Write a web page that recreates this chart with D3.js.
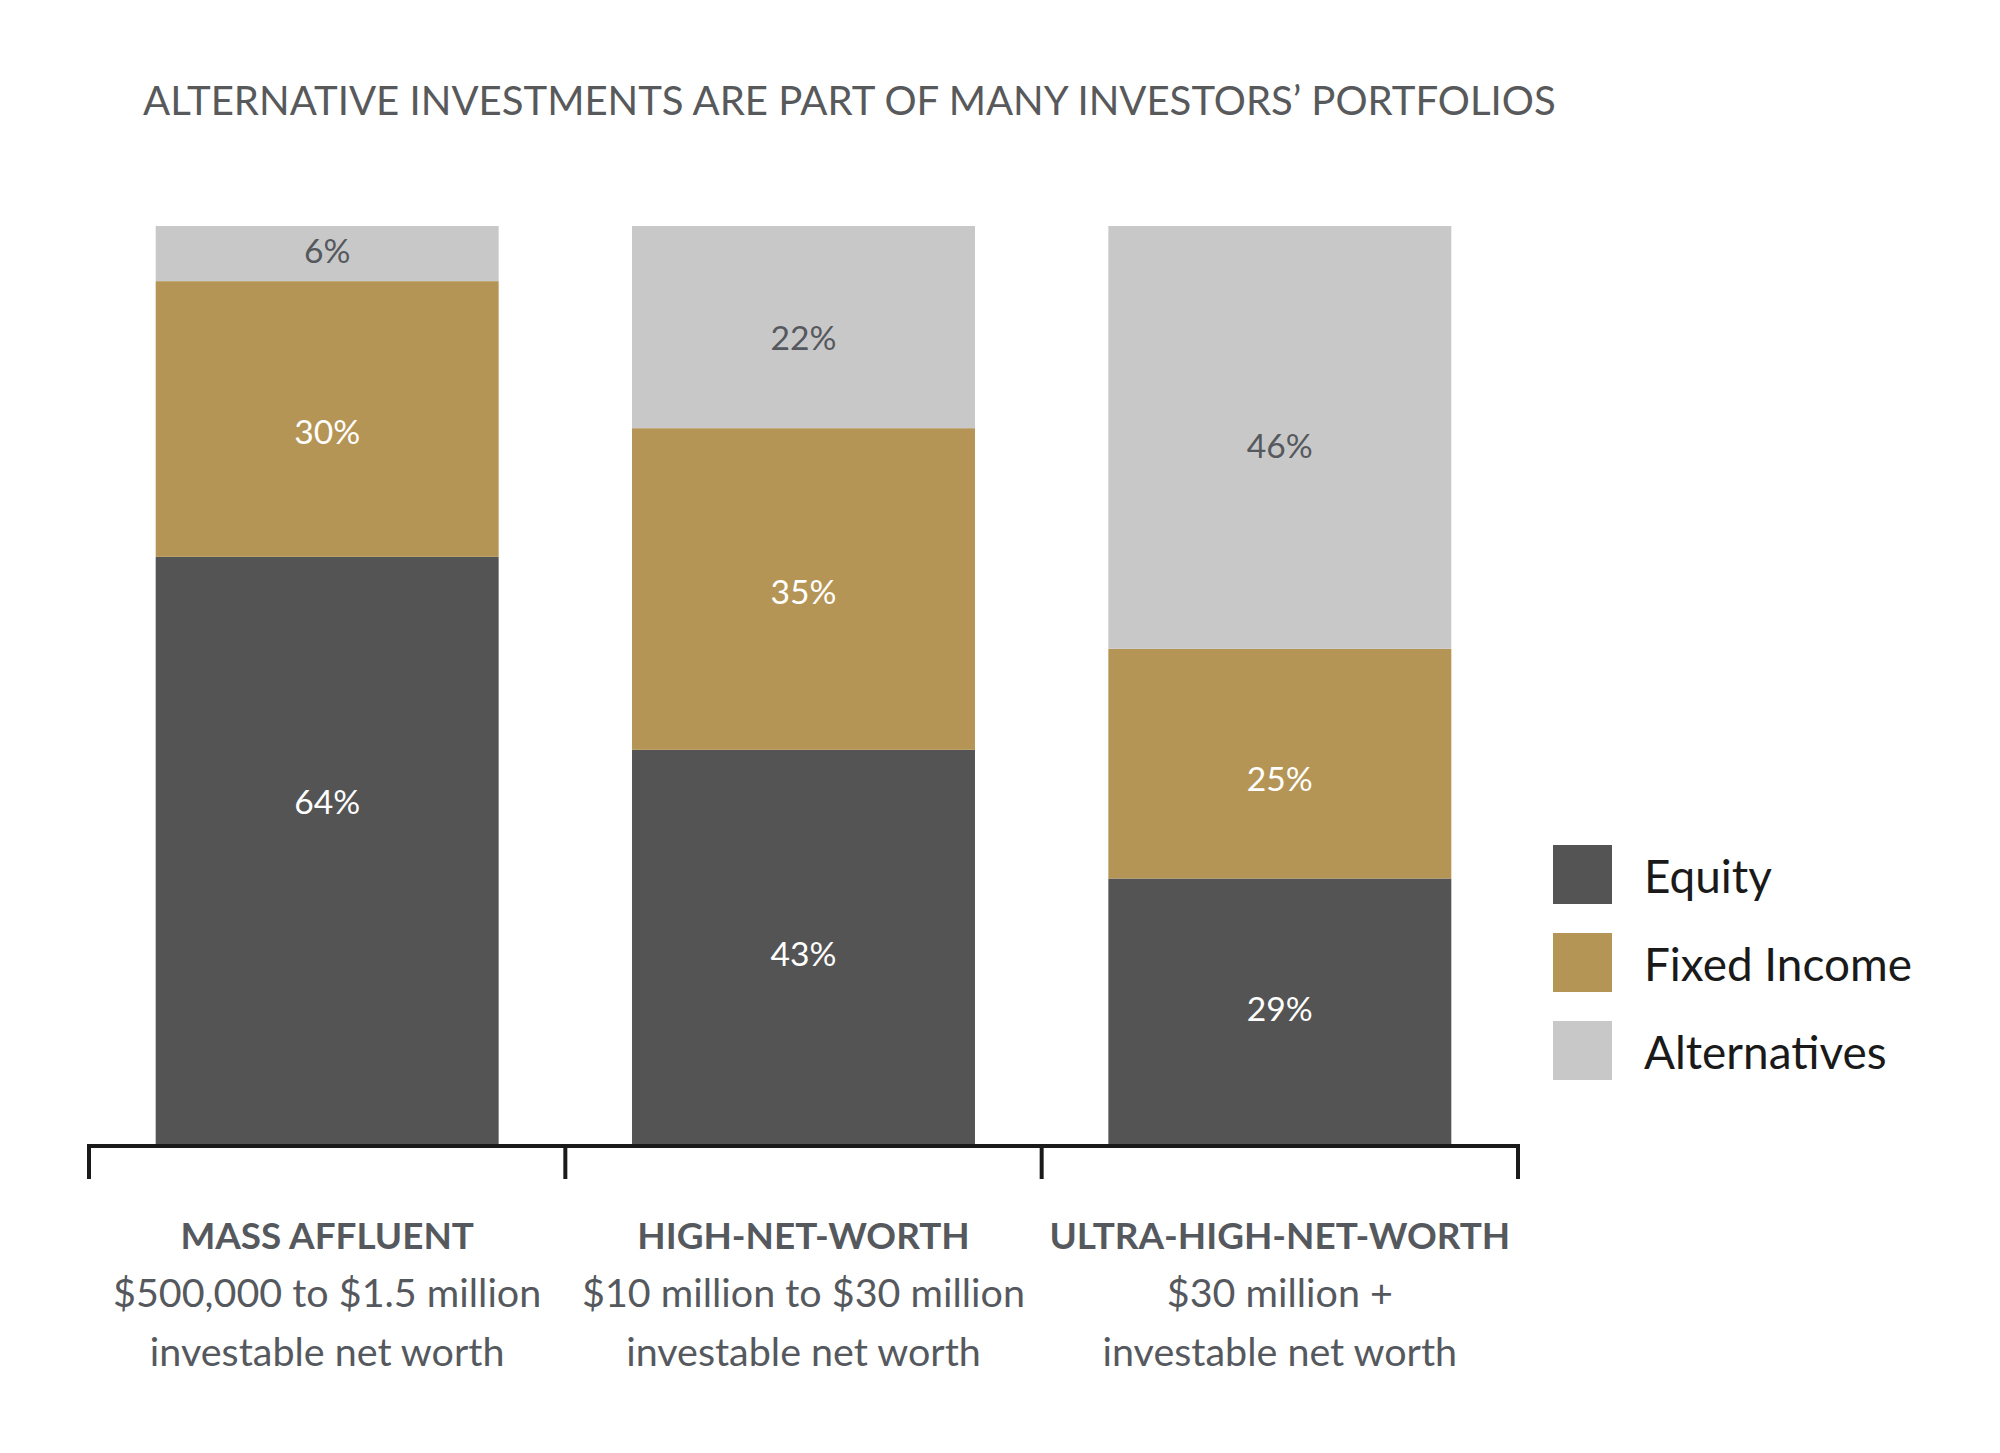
<!DOCTYPE html>
<html>
<head>
<meta charset="utf-8">
<script src="https://cdn.jsdelivr.net/npm/d3@7/dist/d3.min.js"></script>
<style>
  html, body { margin: 0; padding: 0; background: #ffffff; }
  svg { display: block; }
  text { font-family: "Source Sans Pro", Lato, "Open Sans", sans-serif; }
</style>
</head>
<body>
<svg id="chart" width="2000" height="1453"></svg>
<script>
const title = "ALTERNATIVE INVESTMENTS ARE PART OF MANY INVESTORS\u2019 PORTFOLIOS";
const categories = ["MASS AFFLUENT", "HIGH-NET-WORTH", "ULTRA-HIGH-NET-WORTH"];
const categoryLine2 = ["$500,000 to $1.5 million", "$10 million to $30 million", "$30 million +"];
const categoryLine3 = ["investable net worth", "investable net worth", "investable net worth"];
const seriesNames = ["Equity", "Fixed Income", "Alternatives"];
const equity = [64, 43, 29];
const fixedIncome = [30, 35, 25];
const alternatives = [6, 22, 46];
const seriesColors = ["#545454", "#b59555", "#c8c8c8"];
const labelColors = ["#ffffff", "#ffffff", "#55595e"];

// layout: where each value label sits inside its segment (fraction measured from segment top)
const labelPlacement = {
  "Equity": [0.416, 0.516, 0.49],
  "Fixed Income": [0.545, 0.51, 0.565],
  "Alternatives": [0.46, 0.554, 0.52]
};

const rows = categories.map((c, i) => ({
  category: c,
  "Equity": equity[i],
  "Fixed Income": fixedIncome[i],
  "Alternatives": alternatives[i]
}));

const svg = d3.select("#chart");

const x = d3.scaleBand().domain(categories).range([89, 1518]).paddingInner(0).paddingOuter(0);
const y = d3.scaleLinear().domain([0, 100]).range([1145, 226]);
const barW = x.bandwidth() * 0.72;
const color = d3.scaleOrdinal().domain(seriesNames).range(seriesColors);
const lblColor = d3.scaleOrdinal().domain(seriesNames).range(labelColors);

const stack = d3.stack().keys(seriesNames);
const stacked = stack(rows);

function fitSize(sel, target) {
  const w = sel.node().getComputedTextLength();
  const fs = parseFloat(sel.attr("font-size"));
  return fs * target / w;
}

// Title
const t = svg.append("text")
  .attr("x", 143).attr("y", 115)
  .attr("font-size", 40).attr("font-weight", 400)
  .attr("fill", "#58595b")
  .text(title);
t.attr("font-size", fitSize(t, 1413));

// Bars
const layers = svg.append("g").selectAll("g")
  .data(stacked).join("g")
  .attr("fill", d => color(d.key));

layers.selectAll("rect")
  .data(d => d.map(v => ({ key: d.key, v })))
  .join("rect")
  .attr("x", d => x(d.v.data.category) + (x.bandwidth() - barW) / 2)
  .attr("width", barW)
  .attr("y", d => y(d.v[1]))
  .attr("height", d => y(d.v[0]) - y(d.v[1]));

// Value labels
const probe = svg.append("text").attr("font-size", 30).text("30%");
const valFs = fitSize(probe, 66);
probe.remove();

const labelG = svg.append("g");
stacked.forEach(layer => {
  layer.forEach((v, i) => {
    const top = y(v[1]), bot = y(v[0]);
    const f = labelPlacement[layer.key][i];
    labelG.append("text")
      .attr("x", x(v.data.category) + x.bandwidth() / 2)
      .attr("y", top + (bot - top) * f)
      .attr("dy", "0.36em")
      .attr("text-anchor", "middle")
      .attr("font-size", valFs)
      .attr("fill", lblColor(layer.key))
      .text((v[1] - v[0]) + "%");
  });
});

// Axis
const axisY = 1146;
const axis = d3.axisBottom(x).tickSize(0).tickFormat("");
const axG = svg.append("g").attr("transform", `translate(0,${axisY})`).call(axis);
axG.select(".domain").attr("stroke", "#1a1a1a").attr("stroke-width", 4)
  .attr("d", `M${x.range()[0]},0H${x.range()[1]}`);
const boundaries = categories.map(c => x(c)).concat([x.range()[1]]);
svg.append("g").selectAll("line").data(boundaries).join("line")
  .attr("x1", d => d).attr("x2", d => d)
  .attr("y1", axisY - 2).attr("y2", 1179)
  .attr("stroke", "#1a1a1a").attr("stroke-width", 4);

// Category labels
const p1 = svg.append("text").attr("font-size", 36).attr("font-weight", 700).text(categories[2]);
const fs1 = fitSize(p1, 461); p1.remove();
const p2 = svg.append("text").attr("font-size", 36).text(categoryLine2[1]);
const fs2 = fitSize(p2, 443); p2.remove();

const catG = svg.append("g").attr("text-anchor", "middle").attr("fill", "#55595e");
categories.forEach((c, i) => {
  const cx = x(c) + x.bandwidth() / 2;
  catG.append("text").attr("x", cx).attr("y", 1249)
    .attr("font-size", fs1).attr("font-weight", 700).text(c);
  catG.append("text").attr("x", cx).attr("y", 1307)
    .attr("font-size", fs2).text(categoryLine2[i]);
  catG.append("text").attr("x", cx).attr("y", 1366)
    .attr("font-size", fs2).text(categoryLine3[i]);
});

// Legend
const lp = svg.append("text").attr("font-size", 40).text(seriesNames[1]);
const lfs = fitSize(lp, 268); lp.remove();
const legend = svg.append("g");
seriesNames.forEach((s, i) => {
  const top = 845 + i * 88;
  legend.append("rect").attr("x", 1553).attr("y", top)
    .attr("width", 59).attr("height", 59).attr("fill", color(s));
  legend.append("text").attr("x", 1644).attr("y", top + 48)
    .attr("font-size", lfs).attr("fill", "#1a1a1a").text(s);
});
</script>
</body>
</html>
